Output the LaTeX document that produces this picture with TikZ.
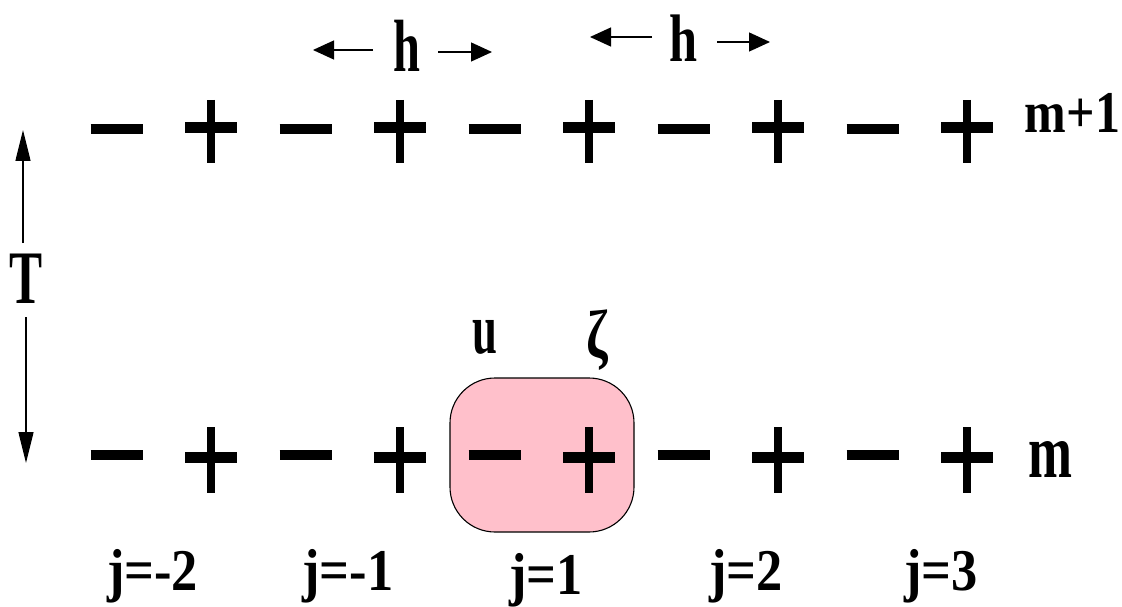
\documentclass[tikz,border=0pt]{standalone}
\usepackage{fontspec}
\setmainfont{Liberation Serif}
\usetikzlibrary{arrows.meta}
\definecolor{boxpink}{RGB}{255,192,203}
\tikzset{
  lbl/.style={inner sep=0pt, font=\fontsize{40}{48}\selectfont\bfseries},
  minusbar/.style={line width=10.5pt},
  plusbar/.style={line width=11pt},
  plusstem/.style={line width=8.5pt},
  harrow/.style={-{Triangle[length=21pt,width=19pt]}, line width=1.3pt},
  tarrow/.style={-{Triangle[length=31pt,width=15pt]}, line width=1.3pt},
  cellbox/.style={draw, fill=boxpink, line width=1.1pt, rounded corners=45pt,
    minimum width=184pt, minimum height=154pt, inner sep=0pt},
}
\begin{document}
\begin{tikzpicture}[x=1pt,y=-1pt]
\useasboundingbox (0,0) rectangle (1122,607);
% highlighted cell
\node[cellbox] (cell) at (542,455) {};
% sign rows
\foreach \i in {0,...,9}{
  \pgfmathsetmacro{\xx}{116.5+94.5*\i}
  \ifodd\i
    \draw[plusbar] (\xx-26,127.5) -- (\xx+26,127.5);
    \draw[plusstem] (\xx,100) -- (\xx,163);
    \draw[plusbar] (\xx-26,457.5) -- (\xx+26,457.5);
    \draw[plusstem] (\xx,427) -- (\xx,493);
  \else
    \draw[minusbar] (\xx-26,129) -- (\xx+26,129);
    \draw[minusbar] (\xx-26,455) -- (\xx+26,455);
  \fi
}
% h labels and arrows
\node[lbl, anchor=base] (h1) at (406.5,72) {\scalebox{1.21}[1.85]{h}};
\node[lbl, anchor=base] (h2) at (684,62) {\scalebox{1.26}[1.68]{h}};
\coordinate (h1ls) at (373,50); \coordinate (h1le) at (313,50);
\coordinate (h1rs) at (438,52); \coordinate (h1re) at (492,52);
\coordinate (h2ls) at (652,37); \coordinate (h2le) at (590,37);
\coordinate (h2rs) at (717,42); \coordinate (h2re) at (770,42);
\draw[harrow] (h1ls) -- (h1le);
\draw[harrow] (h1rs) -- (h1re);
\draw[harrow] (h2ls) -- (h2le);
\draw[harrow] (h2rs) -- (h2re);
% T label and arrows
\node[lbl, anchor=base] (T) at (26,303) {\scalebox{1.24}[1.89]{T}};
\coordinate (Tts) at (23,243); \coordinate (Tte) at (23,130);
\coordinate (Tbs) at (26,317); \coordinate (Tbe) at (26,463);
\draw[tarrow] (Tts) -- (Tte);
\draw[tarrow] (Tbs) -- (Tbe);
% row labels
\node[lbl, anchor=base] (mp1) at (1072.5,133) {\scalebox{1.25}[1.48]{m+1}};
\node[lbl, anchor=base] (m) at (1050,477) {\scalebox{1.32}[1.91]{m}};
% u and zeta
\node[lbl, anchor=base] (u) at (485,353) {\scalebox{1.12}[1.8]{u}};
\node[lbl] (zeta) at (597,340) {\scalebox{1.3}[1.7]{ζ}};
% j labels
\node[lbl, anchor=base] (j1) at (152.5,590) {\scalebox{1.31}[1.48]{j=-2}};
\node[lbl, anchor=base] (j2) at (348,590) {\scalebox{1.31}[1.48]{j=-1}};
\node[lbl, anchor=base] (j3) at (546,594) {\scalebox{1.31}[1.48]{j=1}};
\node[lbl, anchor=base] (j4) at (746,590) {\scalebox{1.31}[1.48]{j=2}};
\node[lbl, anchor=base] (j5) at (941,590) {\scalebox{1.31}[1.48]{j=3}};
\end{tikzpicture}
\end{document}
